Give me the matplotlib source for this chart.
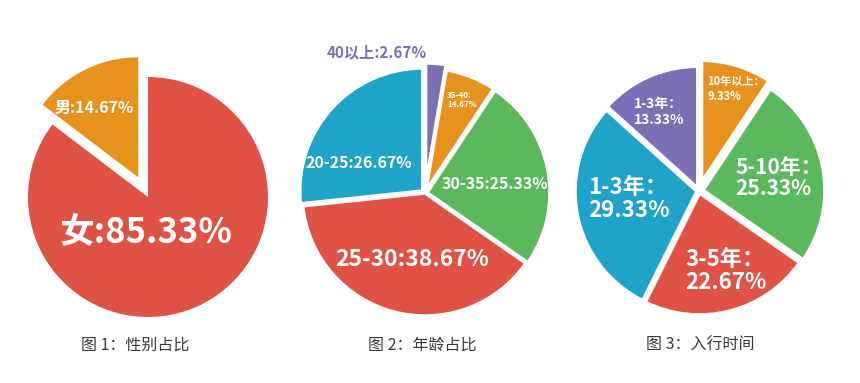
import matplotlib
matplotlib.use('Agg')
import matplotlib.pyplot as plt

plt.rcParams['font.family'] = ['Noto Sans CJK SC', 'DejaVu Sans']

RED = '#e05246'
ORANGE = '#e8921e'
GREEN = '#5cb85c'
BLUE = '#1fa3c9'
PURPLE = '#7b6fb5'

# figure 1: gender
gender_labels = ['男:14.67%', '女:85.33%']
gender_values = [14.67, 85.33]

# figure 2: age (the 35-40 slice is labelled 14.67% in the source, its size is 6.67%)
age_labels = ['40以上:2.67%', '35-40:\n14.67%', '30-35:25.33%', '25-30:38.67%', '20-25:26.67%']
age_values = [2.67, 6.67, 25.33, 38.67, 26.67]

# figure 3: years in the trade
years_labels = ['10年以上：\n9.33%', '5-10年：\n25.33%', '3-5年：\n22.67%', '1-3年：\n29.33%', '1-3年：\n13.33%']
years_values = [9.33, 25.33, 22.67, 29.33, 13.33]

captions = ['图 1：性别占比', '图 2：年龄占比', '图 3：入行时间']

W, H = 860, 383
fig = plt.figure(figsize=(W / 100, H / 100), dpi=100)
ax = fig.add_axes([0, 0, 1, 1])


def py(y):
    # pixel row -> data y
    return H - y


# pie 1 (explode is in data units here, i.e. pixels)
ax.pie(gender_values, colors=[ORANGE, RED], startangle=90, counterclock=True,
       explode=[22, 0], center=(148, py(197)), radius=120,
       wedgeprops=dict(linewidth=0))

# pie 2
ax.pie(age_values, colors=[PURPLE, ORANGE, GREEN, RED, BLUE], startangle=90,
       counterclock=False, explode=[7, 2, 2, 0, 3],
       center=(425, py(193)), radius=123,
       wedgeprops=dict(linewidth=2.5, edgecolor='white'))

# pie 3
ax.pie(years_values, colors=[ORANGE, GREEN, RED, BLUE, PURPLE], startangle=90,
       counterclock=False, explode=[9, 4, 2, 2, 3],
       center=(699, py(191)), radius=122,
       wedgeprops=dict(linewidth=2.5, edgecolor='white'))

ax.set_xlim(0, W)
ax.set_ylim(0, H)
ax.set_aspect('auto')
ax.axis('off')

bold = dict(fontweight='bold', color='white')

# pie 1 labels
ax.text(94, py(108), gender_labels[0], fontsize=11.5, ha='center', va='center', **bold)
ax.text(146, py(233), gender_labels[1], fontsize=25, ha='center', va='center', **bold)

# pie 2 labels
ax.text(377, py(52), age_labels[0], fontsize=11, ha='center', va='center',
        fontweight='bold', color=PURPLE)
ax.text(447, py(100), age_labels[1], fontsize=5.8, ha='left', va='center',
        linespacing=1.1, **bold)
ax.text(495, py(184), age_labels[2], fontsize=11.5, ha='center', va='center', **bold)
ax.text(412, py(259), age_labels[3], fontsize=16.5, ha='center', va='center', **bold)
ax.text(359, py(163), age_labels[4], fontsize=11.5, ha='center', va='center', **bold)

# pie 3 labels
ax.text(707, py(89), years_labels[0], fontsize=8, ha='left', va='center',
        linespacing=1.2, **bold)
ax.text(735, py(178), years_labels[1], fontsize=15, ha='left', va='center',
        linespacing=1.05, **bold)
ax.text(685, py(271), years_labels[2], fontsize=16, ha='left', va='center',
        linespacing=1.05, **bold)
ax.text(588, py(199), years_labels[3], fontsize=16, ha='left', va='center',
        linespacing=1.05, **bold)
ax.text(634, py(112), years_labels[4], fontsize=10, ha='left', va='center',
        linespacing=1.1, **bold)

# captions
for x, cap in zip([135, 422, 700], captions):
    ax.text(x, py(345), cap, fontsize=11.5, ha='center', va='center',
            color='#3a3a3a', fontweight='light')

fig.savefig('out.png', dpi=100, facecolor='white')
